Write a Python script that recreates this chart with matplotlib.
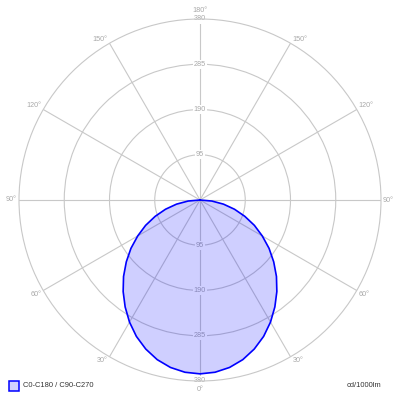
import numpy as np
import matplotlib
matplotlib.use("Agg")
import matplotlib.pyplot as plt

plt.rcParams["font.family"] = ["Liberation Sans", "DejaVu Sans"]

# Data (cd/1000lm) at gamma angles 0..90 deg, step 5
gamma_deg = [0, 5, 10, 15, 20, 25, 30, 35, 40, 45, 50, 55, 60, 65, 70, 75, 80, 85, 90]
intensity = [365, 363, 357, 347, 333, 316, 296, 274, 251, 227, 202, 177, 151, 126, 100, 75, 50, 25, 0]
ring_values = [95, 190, 285, 380]
angle_labels = [0, 30, 60, 90, 120, 150, 180]
legend_label = "C0-C180 / C90-C270"
unit_label = "cd/1000lm"

GRID = "#c8c8c8"
LBL = "#a8a8a8"
FILL = "#0000ff"
RMAX = 380

fig = plt.figure(figsize=(4, 4), dpi=100)
fig.patch.set_facecolor("white")
r_frac = 181 / 400
ax = fig.add_axes([0.5 - r_frac, 0.5 - r_frac, 2 * r_frac, 2 * r_frac], projection="polar")
ax.set_theta_zero_location("S")
ax.set_ylim(0, RMAX)
ax.set_yticks(ring_values[:-1])
ax.set_yticklabels([])
ax.set_xticks(np.deg2rad(np.arange(0, 360, 30)))
ax.set_xticklabels([])
ax.grid(True, color=GRID, linewidth=0.8)
ax.spines["polar"].set_color(GRID)
ax.spines["polar"].set_linewidth(0.8)
ax.set_facecolor("white")

# ring value labels along vertical axis (top and bottom)
for v in ring_values:
    for th in (0, np.pi):
        ax.text(th, v, str(v), ha="center", va="center", fontsize=5.2, color=LBL,
                bbox=dict(boxstyle="square,pad=0.15", fc="white", ec="none"), zorder=2)

# angle labels
for a in angle_labels:
    sides = [1, -1] if a not in (0, 180) else [1]
    for s in sides:
        th = np.deg2rad(a * s)
        if a == 0:
            ax.annotate(f"{a}°", xy=(0, RMAX), xytext=(0, -6), textcoords="offset points",
                        ha="center", va="center", fontsize=5.2, color=LBL, annotation_clip=False)
        elif a == 180:
            ax.annotate(f"{a}°", xy=(np.pi, RMAX), xytext=(0, 6), textcoords="offset points",
                        ha="center", va="center", fontsize=5.2, color=LBL, annotation_clip=False)
        else:
            ha = "left" if s == 1 else "right"
            dx = 1.5 * s
            if a == 90:
                va, dy = "center", 0
            elif a < 90:
                va, dy = "top", -0.5
            else:
                va, dy = "bottom", 0.5
            ax.annotate(f"{a}°", xy=(th, RMAX), xytext=(dx, dy), textcoords="offset points",
                        ha=ha, va=va, fontsize=5.2, color=LBL, annotation_clip=False)

# curve: mirrored across 0 deg
g = np.array(gamma_deg, dtype=float)
I = np.array(intensity, dtype=float)
theta = np.deg2rad(np.concatenate([-g[::-1], g[1:]]))
rr = np.concatenate([I[::-1], I[1:]])
ax.fill(theta, rr, color=FILL, alpha=0.19, lw=0, zorder=3)
ax.plot(theta, rr, color=FILL, lw=1.2, zorder=4)

# legend
fig.patches.append(plt.Rectangle((8.5 / 400, 1 - 390.5 / 400), 10 / 400, 10 / 400,
                                 transform=fig.transFigure, fc="#d0d0ff", ec="#0000ff", lw=1.1))
fig.text(23 / 400, 1 - 385.7 / 400, legend_label, ha="left", va="center", fontsize=5.4, color="#333333")
fig.text(381 / 400, 1 - 385.7 / 400, unit_label, ha="right", va="center", fontsize=5.4, color="#333333")

fig.savefig("out.png", dpi=100, facecolor="white")
